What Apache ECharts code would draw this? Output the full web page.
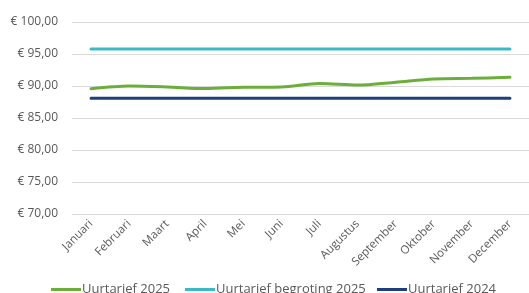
<!DOCTYPE html>
<html lang="nl">
<head>
    <meta charset="UTF-8">
    <title>Uurtarief</title>
    <style>
        html, body { margin: 0; padding: 0; background: #fff; }
        #main { width: 529px; height: 293px; }
    </style>
</head>
<body>
    <div id="main"></div>
    <script src="https://cdn.jsdelivr.net/npm/echarts@6/dist/echarts.min.js"></script>
    <script>
    var maanden = ['Januari', 'Februari', 'Maart', 'April', 'Mei', 'Juni', 'Juli', 'Augustus', 'September', 'Oktober', 'November', 'December'];
    var tarief2025 = [89.58, 90.0, 89.85, 89.6, 89.8, 89.85, 90.4, 90.15, 90.6, 91.1, 91.2, 91.35];
    var begroting2025 = [95.78, 95.78, 95.78, 95.78, 95.78, 95.78, 95.78, 95.78, 95.78, 95.78, 95.78, 95.78];
    var tarief2024 = [88.07, 88.07, 88.07, 88.07, 88.07, 88.07, 88.07, 88.07, 88.07, 88.07, 88.07, 88.07];
    var reeksNamen = ['Uurtarief 2025', 'Uurtarief begroting 2025', 'Uurtarief 2024'];
    var kleuren = ['#6bae3a', '#3cb9c4', '#1e3f7d'];
    var legendaLinks = [51, 185, 377];

    var myChart = echarts.init(document.getElementById('main'));
    var font = 'Open Sans, Calibri, sans-serif';

    function lijn(naam, data, kleur) {
        return {
            name: naam,
            type: 'line',
            data: data,
            smooth: 0.3,
            showSymbol: false,
            lineStyle: { width: 3, color: kleur, cap: 'round' },
            itemStyle: { color: kleur }
        };
    }

    // één legenda per reeks zodat ze niet afbreken
    var legendas = reeksNamen.map(function (naam, i) {
        return {
            data: [naam],
            bottom: -3,
            left: legendaLinks[i],
            padding: 0,
            itemWidth: 30,
            itemHeight: 3,
            icon: 'rect',
            textStyle: { color: '#595959', fontSize: 13, padding: [0, 0, 0, -4] }
        };
    });

    var option = {
        animation: false,
        textStyle: { fontFamily: font },
        grid: { left: 72, top: 22, width: 462, height: 192 },
        legend: legendas,
        xAxis: {
            type: 'category',
            data: maanden,
            axisLine: { show: false },
            axisTick: { show: false },
            axisLabel: { rotate: 45, interval: 0, color: '#595959', fontSize: 11.5, margin: 8 }
        },
        yAxis: {
            type: 'value',
            min: 70,
            max: 100,
            interval: 5,
            axisLabel: {
                color: '#595959',
                fontSize: 12,
                margin: 14,
                formatter: function (v) { return '€ ' + v.toFixed(2).replace('.', ','); }
            },
            splitLine: { lineStyle: { color: '#d9d9d9', width: 1 } }
        },
        series: [
            lijn(reeksNamen[0], tarief2025, kleuren[0]),
            lijn(reeksNamen[1], begroting2025, kleuren[1]),
            lijn(reeksNamen[2], tarief2024, kleuren[2])
        ]
    };
    myChart.setOption(option);
    </script>
</body>
</html>
